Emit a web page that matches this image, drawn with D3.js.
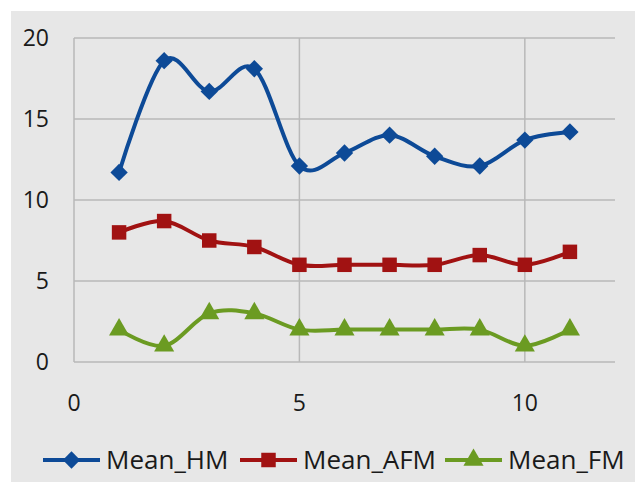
<!DOCTYPE html>
<html lang="en">
<head>
<meta charset="utf-8"/>
<title>Mean HM / AFM / FM</title>
<script src="https://d3js.org/d3.v7.min.js"></script>
<style>
  body { margin: 0; background: #fff; }
  text { font-family: "Open Sans", "DejaVu Sans", sans-serif; fill: #1a1a1a; }
</style>
</head>
<body>
<div id="chart"></div>
<script>
// chart data
var xs = [1, 2, 3, 4, 5, 6, 7, 8, 9, 10, 11];
var meanHM  = [11.7, 18.6, 16.7, 18.1, 12.1, 12.9, 14.0, 12.7, 12.1, 13.7, 14.2];
var meanAFM = [8.0, 8.7, 7.5, 7.1, 6.0, 6.0, 6.0, 6.0, 6.6, 6.0, 6.8];
var meanFM  = [2, 1, 3, 3, 2, 2, 2, 2, 2, 1, 2];
var seriesNames = ["Mean_HM", "Mean_AFM", "Mean_FM"];
var xTicks = [0, 5, 10];
var yTicks = [0, 5, 10, 15, 20];

var w = 635, h = 482;
var colours = ["#0d4a97", "#a11212", "#6b9b22"];
var shapes = [d3.symbolSquare, d3.symbolSquare, d3.symbolTriangle];
var sizes = [150, 210, 175];
var rotate = [45, 0, 0];   // diamond = rotated square

var x = d3.scaleLinear().domain([0, 12]).range([74, 615]);
var y = d3.scaleLinear().domain([0, 20]).range([362, 38]);

var svg = d3.select("#chart").append("svg")
    .attr("width", w)
    .attr("height", h);

// grey panel
svg.append("rect")
    .attr("x", 11).attr("y", 11)
    .attr("width", w - 11).attr("height", h - 11)
    .attr("fill", "#e7e7e7");

// grid lines
svg.selectAll("line.hgrid")
    .data(yTicks)
    .enter().append("line")
    .attr("x1", x(0)).attr("x2", x(12))
    .attr("y1", function(d) { return y(d); })
    .attr("y2", function(d) { return y(d); })
    .attr("stroke", "#b9b9b9").attr("stroke-width", 1.5);

svg.selectAll("line.vgrid")
    .data(xTicks)
    .enter().append("line")
    .attr("x1", function(d) { return x(d); })
    .attr("x2", function(d) { return x(d); })
    .attr("y1", y(0)).attr("y2", y(20))
    .attr("stroke", "#b9b9b9").attr("stroke-width", 1.5);

// axis labels
svg.selectAll("text.ylab")
    .data(yTicks)
    .enter().append("text")
    .attr("x", 49)
    .attr("y", function(d) { return y(d) + 8; })
    .attr("text-anchor", "end")
    .attr("font-size", 23)
    .text(function(d) { return d; });

svg.selectAll("text.xlab")
    .data(xTicks)
    .enter().append("text")
    .attr("x", function(d) { return x(d); })
    .attr("y", 411)
    .attr("text-anchor", "middle")
    .attr("font-size", 23)
    .text(function(d) { return d; });

// lines and markers
var all = [meanHM, meanAFM, meanFM];
var line = d3.line()
    .x(function(d, i) { return x(xs[i]); })
    .y(function(d) { return y(d); })
    .curve(d3.curveCatmullRom.alpha(0));

all.forEach(function(vals, s) {
    svg.append("path")
        .attr("d", line(vals))
        .attr("fill", "none")
        .attr("stroke", colours[s])
        .attr("stroke-width", 4);

    svg.selectAll("path.m" + s)
        .data(vals)
        .enter().append("path")
        .attr("transform", function(d, i) {
            return "translate(" + x(xs[i]) + "," + y(d) + ") rotate(" + rotate[s] + ")";
        })
        .attr("d", d3.symbol().type(shapes[s]).size(sizes[s]))
        .attr("fill", colours[s]);
});

// legend
var legX = [43, 240, 445];
seriesNames.forEach(function(name, s) {
    var g = svg.append("g").attr("transform", "translate(" + legX[s] + ",460)");
    g.append("line")
        .attr("x1", 0).attr("x2", 57)
        .attr("stroke", colours[s]).attr("stroke-width", 4);
    g.append("path")
        .attr("transform", "translate(28.5,0) rotate(" + rotate[s] + ")")
        .attr("d", d3.symbol().type(shapes[s]).size(sizes[s]))
        .attr("fill", colours[s]);
    g.append("text")
        .attr("x", 63).attr("y", 9)
        .attr("font-size", 26)
        .text(name);
});
</script>
</body>
</html>
